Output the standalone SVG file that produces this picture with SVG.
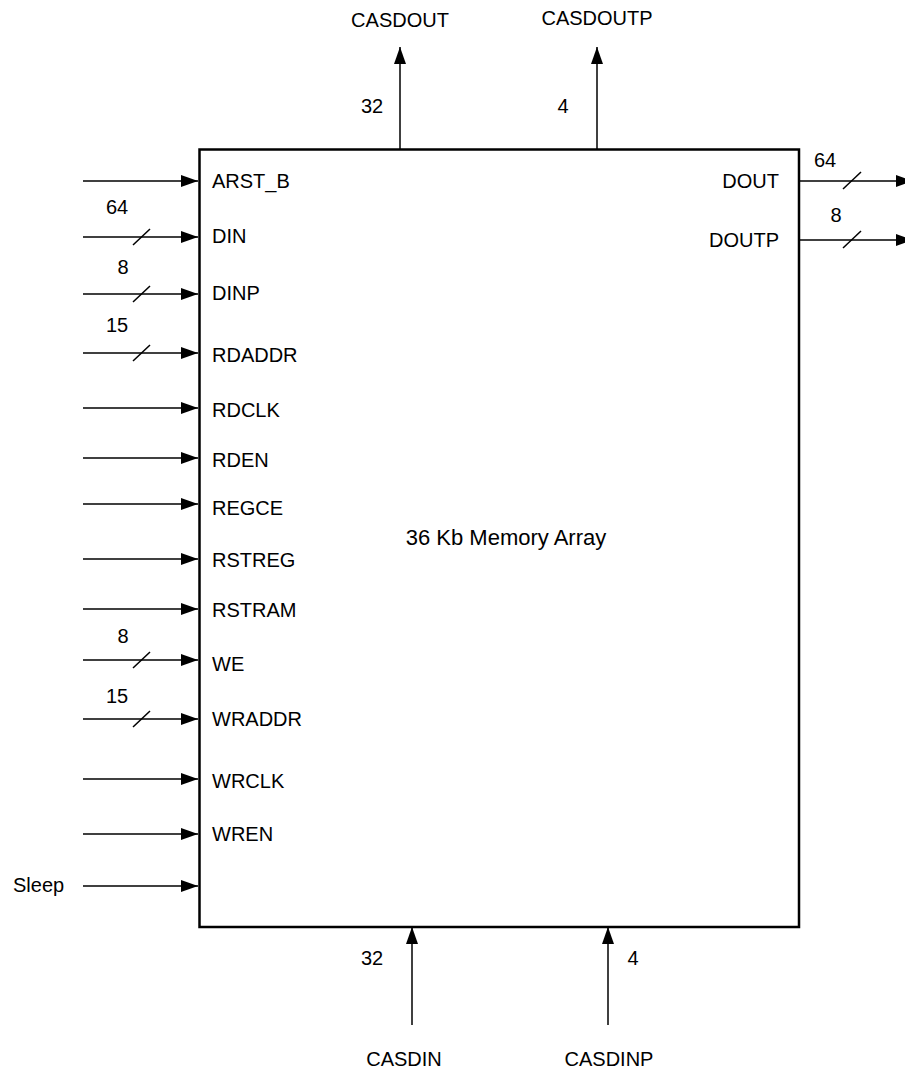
<svg xmlns="http://www.w3.org/2000/svg" width="905" height="1070" viewBox="0 0 905 1070">
<style>
text{font-family:"Liberation Sans",Arial,sans-serif;font-size:20px;fill:#000}
.c{text-anchor:middle}
.e{text-anchor:end}
.big{font-size:22px}
.w{stroke:#000;stroke-width:1.5;fill:none}
.a{stroke:#000;stroke-width:1.5;fill:none;marker-end:url(#ah)}
</style>
<defs>
<marker id="ah" markerUnits="userSpaceOnUse" markerWidth="17" markerHeight="12" refX="17" refY="6" orient="auto">
<path d="M0,0 L17,6 L0,12 z" fill="#000"/>
</marker>
</defs>
<g id="block">
<rect x="199.5" y="149.5" width="599.5" height="777.5" fill="#fff" stroke="#000" stroke-width="2.5"/>
<text class="c big" x="506" y="545">36 Kb Memory Array</text>
</g>
<g id="connectors">
<line class="a" x1="83" y1="181" x2="198" y2="181"/>
<line class="a" x1="83" y1="237" x2="198" y2="237"/>
<line class="a" x1="83" y1="294" x2="198" y2="294"/>
<line class="a" x1="83" y1="353" x2="198" y2="353"/>
<line class="a" x1="83" y1="408" x2="198" y2="408"/>
<line class="a" x1="83" y1="458" x2="198" y2="458"/>
<line class="a" x1="83" y1="504" x2="198" y2="504"/>
<line class="a" x1="83" y1="559" x2="198" y2="559"/>
<line class="a" x1="83" y1="609" x2="198" y2="609"/>
<line class="a" x1="83" y1="660" x2="198" y2="660"/>
<line class="a" x1="83" y1="719" x2="198" y2="719"/>
<line class="a" x1="83" y1="779" x2="198" y2="779"/>
<line class="a" x1="83" y1="834" x2="198" y2="834"/>
<line class="a" x1="83" y1="886" x2="198" y2="886"/>
<line class="a" x1="800" y1="181" x2="913" y2="181"/>
<line class="a" x1="800" y1="240" x2="913" y2="240"/>
<line class="a" x1="400" y1="149" x2="400" y2="47"/>
<line class="a" x1="597" y1="149" x2="597" y2="47"/>
<line class="a" x1="412" y1="1025" x2="412" y2="927"/>
<line class="a" x1="608" y1="1025" x2="608" y2="927"/>
<line class="w" x1="133" y1="245" x2="150" y2="229"/>
<line class="w" x1="133" y1="302" x2="150" y2="286"/>
<line class="w" x1="133" y1="361" x2="150" y2="345"/>
<line class="w" x1="133" y1="668" x2="150" y2="652"/>
<line class="w" x1="133" y1="727" x2="150" y2="711"/>
<line class="w" x1="843" y1="189" x2="861" y2="172"/>
<line class="w" x1="843" y1="248" x2="861" y2="231"/>
</g>
<g id="port-labels">
<text x="212" y="188">ARST_B</text>
<text x="212" y="243">DIN</text>
<text x="212" y="300">DINP</text>
<text x="212" y="362">RDADDR</text>
<text x="212" y="417">RDCLK</text>
<text x="212" y="467">RDEN</text>
<text x="212" y="515">REGCE</text>
<text x="212" y="567">RSTREG</text>
<text x="212" y="617">RSTRAM</text>
<text x="212" y="671">WE</text>
<text x="212" y="726">WRADDR</text>
<text x="212" y="788">WRCLK</text>
<text x="212" y="841">WREN</text>
<text class="e" x="779" y="188">DOUT</text>
<text class="e" x="779" y="247">DOUTP</text>
</g>
<g id="external-labels">
<text x="13" y="892">Sleep</text>
<text class="c" x="400" y="27">CASDOUT</text>
<text class="c" x="597" y="25">CASDOUTP</text>
<text class="c" x="404" y="1066">CASDIN</text>
<text class="c" x="609" y="1066">CASDINP</text>
</g>
<g id="width-labels">
<text class="c" x="117" y="214">64</text>
<text class="c" x="123" y="274">8</text>
<text class="c" x="117" y="332">15</text>
<text class="c" x="123" y="643">8</text>
<text class="c" x="117" y="703">15</text>
<text class="c" x="825" y="167">64</text>
<text class="c" x="836" y="222">8</text>
<text class="c" x="372" y="113">32</text>
<text class="c" x="563" y="113">4</text>
<text class="c" x="372" y="965">32</text>
<text class="c" x="633" y="965">4</text>
</g>
</svg>
